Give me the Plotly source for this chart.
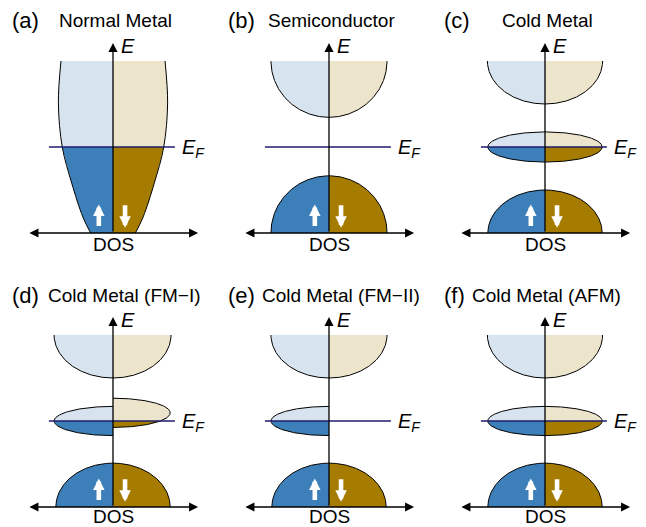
import numpy as np
import plotly.graph_objects as go

W, H = 646, 527
PX = 43.0  # pixels per unit (energy and DOS share one scale)

# ---------------------------------------------------------------- data
panel_tags = ["(a)", "(b)", "(c)", "(d)", "(e)", "(f)"]
panel_titles = ["Normal Metal", "Semiconductor", "Cold Metal",
                "Cold Metal (FM\u2212I)", "Cold Metal (FM\u2212II)", "Cold Metal (AFM)"]

fermi_level = 2.0
window_top = 4.0

# normal metal: DOS sampled at a few energies (identical for both spins)
nm_energy = [0.0, 0.37, 1.16, 2.0, 3.02, 4.0]
nm_dos = [0.52, 0.70, 0.96, 1.18, 1.27, 1.21]

# elliptic bands: (centre energy, half-height, peak DOS), clipped to [0, window_top]
semi_up = [(4.0, 1.31, 1.35), (0.0, 1.33, 1.35)]
semi_dn = [(4.0, 1.31, 1.35), (0.0, 1.33, 1.35)]
cold_up = [(4.0, 1.0, 1.34), (2.0, 0.35, 1.33), (0.0, 1.0, 1.33)]
cold_dn = [(4.0, 1.0, 1.34), (2.0, 0.35, 1.33), (0.0, 1.0, 1.33)]
fm1_up = [(4.0, 1.0, 1.37), (2.0, 0.34, 1.37), (0.0, 1.02, 1.33)]
fm1_dn = [(4.0, 1.0, 1.35), (2.19, 0.34, 1.33), (0.0, 1.02, 1.33)]
fm2_up = [(4.0, 1.0, 1.35), (2.0, 0.34, 1.35), (0.0, 1.02, 1.33)]
fm2_dn = [(4.0, 1.0, 1.35), (0.0, 1.02, 1.33)]
afm_up = [(4.0, 1.0, 1.34), (2.0, 0.34, 1.33), (0.0, 1.02, 1.33)]
afm_dn = [(4.0, 1.0, 1.34), (2.0, 0.34, 1.33), (0.0, 1.02, 1.33)]

panel_bands = [None, (semi_up, semi_dn), (cold_up, cold_dn),
               (fm1_up, fm1_dn), (fm2_up, fm2_dn), (afm_up, afm_dn)]

# ---------------------------------------------------------------- style
FONT = "Liberation Sans, Arial, sans-serif"
UP_OCC, UP_EMP = "#3d7fb8", "#d7e3ee"
DN_OCC, DN_EMP = "#a57c00", "#ede4cc"
FERMI_COL = "#1e1d6c"

col_cx = [113, 329, 545]      # pixel x of each column's energy axis
row_ay = [233, 507]           # pixel y of each row's DOS axis

fig = go.Figure()
annotations = []


def ax_ids(i):
    n = "" if i == 0 else str(i + 1)
    return "x" + n, "y" + n


def angle(e, c, h):
    return np.arcsin(np.clip((e - c) / h, -1.0, 1.0))


def add_elliptic(xr, yr, band, sign, occ_col, emp_col):
    c, h, w = band
    lo, hi = max(c - h, 0.0), min(c + h, window_top)
    parts = []
    if lo < fermi_level:
        parts.append((lo, min(hi, fermi_level), occ_col))
    if hi > fermi_level:
        parts.append((max(lo, fermi_level), hi, emp_col))
    for a, b, col in parts:
        t = np.linspace(angle(a, c, h), angle(b, c, h), 120)
        e = c + h * np.sin(t)
        d = sign * w * np.cos(t)
        fig.add_trace(go.Scatter(
            x=np.r_[d, 0, 0], y=np.r_[e, b, a], mode="lines", fill="toself",
            fillcolor=col, line=dict(width=0), xaxis=xr, yaxis=yr,
            hoverinfo="skip", showlegend=False))
    t = np.linspace(angle(lo, c, h), angle(hi, c, h), 160)
    fig.add_trace(go.Scatter(
        x=sign * w * np.cos(t), y=c + h * np.sin(t), mode="lines",
        line=dict(color="black", width=1), xaxis=xr, yaxis=yr,
        hoverinfo="skip", showlegend=False))


def add_normal_metal(xr, yr, sign, occ_col, emp_col):
    k = nm_energy.index(fermi_level)
    segs = [(nm_energy[:k + 1], nm_dos[:k + 1], occ_col),
            (nm_energy[k:], nm_dos[k:], emp_col)]
    for e, d, col in segs:
        fig.add_trace(go.Scatter(
            x=[0, 0], y=[e[0], e[-1]], mode="lines", line=dict(width=0),
            xaxis=xr, yaxis=yr, hoverinfo="skip", showlegend=False))
        fig.add_trace(go.Scatter(
            x=[sign * v for v in d], y=e, mode="lines", fill="tonextx",
            fillcolor=col, line=dict(width=0, shape="spline"),
            xaxis=xr, yaxis=yr, hoverinfo="skip", showlegend=False))
    fig.add_trace(go.Scatter(
        x=[sign * v for v in nm_dos], y=nm_energy, mode="lines",
        line=dict(color="black", width=1, shape="spline"),
        xaxis=xr, yaxis=yr, hoverinfo="skip", showlegend=False))


layout_axes = {}
for i in range(6):
    row, col = divmod(i, 3)
    cx, ay = col_cx[col], row_ay[row]
    xr, yr = ax_ids(i)
    xkey = "xaxis" if i == 0 else "xaxis%d" % (i + 1)
    ykey = "yaxis" if i == 0 else "yaxis%d" % (i + 1)
    layout_axes[xkey] = dict(domain=[(cx - 100) / W, (cx + 100) / W],
                             range=[-100 / PX, 100 / PX], visible=False,
                             fixedrange=True, anchor=yr)
    layout_axes[ykey] = dict(domain=[(H - (ay + 20)) / H, (H - (ay - 200)) / H],
                             range=[-20 / PX, 200 / PX], visible=False,
                             fixedrange=True, anchor=xr)

    if i == 0:
        add_normal_metal(xr, yr, -1, UP_OCC, UP_EMP)
        add_normal_metal(xr, yr, 1, DN_OCC, DN_EMP)
    else:
        up, dn = panel_bands[i]
        for b in up:
            add_elliptic(xr, yr, b, -1, UP_OCC, UP_EMP)
        for b in dn:
            add_elliptic(xr, yr, b, 1, DN_OCC, DN_EMP)

    # Fermi level
    fig.add_trace(go.Scatter(
        x=[-1.49, 1.44], y=[fermi_level, fermi_level], mode="lines",
        line=dict(color=FERMI_COL, width=1.6), xaxis=xr, yaxis=yr,
        hoverinfo="skip", showlegend=False))

    ref = dict(xref=xr, yref=yr, axref=xr, ayref=yr)
    # energy axis
    annotations.append(dict(x=0, y=4.42, ax=0, ay=0, showarrow=True, text="",
                            arrowhead=2, arrowsize=1.4, arrowwidth=1.3,
                            arrowcolor="black", standoff=0, **ref))
    # DOS axis, both directions
    annotations.append(dict(x=1.98, y=0, ax=-1.98, ay=0, showarrow=True, text="",
                            arrowhead=2, arrowsize=1.4, arrowwidth=1.3,
                            arrowside="end+start", arrowcolor="black",
                            standoff=0, startstandoff=0, **ref))
    # spin arrows
    annotations.append(dict(x=-0.33, y=0.66, ax=-0.33, ay=0.13, showarrow=True,
                            text="", arrowhead=2, arrowsize=0.5, arrowwidth=4.6,
                            arrowcolor="white", standoff=0, **ref))
    annotations.append(dict(x=0.28, y=0.12, ax=0.28, ay=0.68, showarrow=True,
                            text="", arrowhead=2, arrowsize=0.5, arrowwidth=4.6,
                            arrowcolor="white", standoff=0, **ref))
    # axis labels
    annotations.append(dict(x=0.13, y=4.36, text="<i>E</i>", showarrow=False,
                            xanchor="left", yanchor="middle", xref=xr, yref=yr,
                            font=dict(size=20, family=FONT, color="black")))
    annotations.append(dict(x=1.56, y=fermi_level - 0.03,
                            text="<i>E<sub>F</sub></i>", showarrow=False,
                            xanchor="left", yanchor="middle", xref=xr, yref=yr,
                            font=dict(size=20, family=FONT, color="black")))
    annotations.append(dict(x=0, y=-0.26 if row == 0 else -0.22, text="DOS",
                            showarrow=False, xanchor="center", yanchor="middle",
                            xref=xr, yref=yr,
                            font=dict(size=19, family=FONT, color="black")))

    # panel tag and title
    ty = 21 if row == 0 else 295
    annotations.append(dict(x=(cx - 103) / W, y=(H - ty) / H, text=panel_tags[i],
                            showarrow=False, xanchor="left", yanchor="middle",
                            xref="paper", yref="paper",
                            font=dict(size=22, family=FONT, color="black")))
    if row == 0:
        tx, xa = cx + 2, "center"
    else:
        tx, xa = [46, 260, 470][col], "left"
    annotations.append(dict(x=tx / W, y=(H - ty) / H, text=panel_titles[i],
                            showarrow=False, xanchor=xa, yanchor="middle",
                            xref="paper", yref="paper",
                            font=dict(size=19, family=FONT, color="black")))

fig.update_layout(width=W, height=H, margin=dict(l=0, r=0, t=0, b=0),
                  paper_bgcolor="white", plot_bgcolor="rgba(0,0,0,0)",
                  annotations=annotations, showlegend=False, **layout_axes)

fig.write_html("out.html", config={"displayModeBar": False})
